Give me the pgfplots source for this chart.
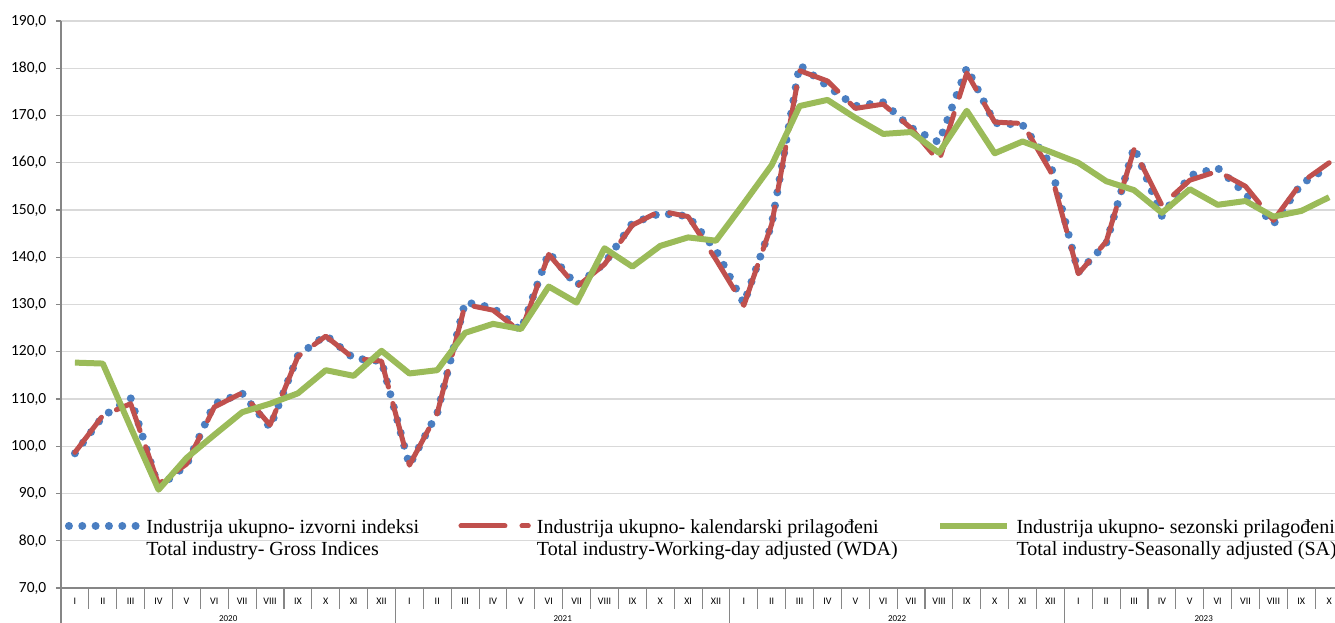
\documentclass[border=0pt]{standalone}
\usepackage{fontspec}
\setmainfont{Liberation Serif}
\newfontfamily\carlito{Carlito}
\usepackage{pgfplots}
\usepackage{pgfplotstable}
\pgfplotsset{compat=1.18}
\definecolor{cGross}{RGB}{74,126,193}
\definecolor{cWDA}{RGB}{192,80,77}
\definecolor{cSA}{RGB}{155,187,89}
\definecolor{cAxis}{RGB}{134,134,134}
\definecolor{cGrid}{RGB}{217,217,217}

\pgfplotstableread{
x gross wda sa
0 98.5 98.7 117.7
1 106.3 106.5 117.5
2 110.2 109.0 104.0
3 91.3 92.0 90.8
4 96.0 96.2 97.5
5 109.0 108.3 102.4
6 111.2 111.3 107.2
7 104.0 104.5 109.0
8 119.2 119.0 111.2
9 123.5 123.3 116.1
10 118.6 118.6 114.9
11 118.0 118.0 120.2
12 96.0 96.0 115.4
13 107.0 107.0 116.1
14 130.5 130.0 124.0
15 129.3 128.8 125.9
16 124.5 124.2 124.8
17 141.0 140.6 133.8
18 134.0 133.7 130.4
19 138.7 138.5 141.9
20 147.2 146.8 138.0
21 149.3 149.8 142.4
22 148.7 148.6 144.2
23 141.5 139.5 143.5
24 130.2 129.8 151.4
25 147.0 147.0 159.5
26 180.7 179.5 172.0
27 176.2 177.3 173.3
28 172.0 171.5 169.5
29 172.8 172.4 166.1
30 167.4 167.3 166.5
31 164.3 160.3 162.1
32 180.1 179.0 171.0
33 168.4 168.6 162.0
34 168.0 168.3 164.5
35 159.8 158.2 162.3
36 136.8 136.5 160.0
37 142.9 143.3 156.1
38 163.3 162.8 154.2
39 148.7 151.0 149.4
40 157.3 156.3 154.4
41 158.9 158.2 151.1
42 153.4 155.0 151.9
43 147.0 147.8 148.6
44 155.5 155.8 149.8
45 159.2 160.0 152.7
}\data

\begin{document}
\begin{tikzpicture}
\begin{axis}[
  scale only axis, width=955.5pt, height=425.25pt,
  xmin=-0.5, xmax=45.21, ymin=70, ymax=190,
  axis x line*=bottom, axis y line*=left,
  axis line style={draw=cAxis, line width=1.1pt, -},
  ytick={70,80,...,190},
  ymajorgrids, grid style={draw=cGrid, line width=1.1pt},
  tick align=outside, major tick length=3.75pt,
  ytick style={draw=cAxis, line width=0.8pt},
  xtick={0,...,45}, xtick style={draw=none},
  xticklabels={I,II,III,IV,V,VI,VII,VIII,IX,X,XI,XII,I,II,III,IV,V,VI,VII,VIII,IX,X,XI,XII,I,II,III,IV,V,VI,VII,VIII,IX,X,XI,XII,I,II,III,IV,V,VI,VII,VIII,IX,X},
  x tick label style={font=\carlito\fontsize{7.5}{8}\selectfont, anchor=center, yshift=-6.25pt},
  y tick label style={font=\carlito\fontsize{11.6}{13}\selectfont, xshift=-3.75pt},
  yticklabel style={/pgf/number format/.cd, fixed, fixed zerofill, precision=1, use comma, assume math mode=true},
  clip=false,
  legend columns=3,
  legend cell align=left,
  legend image code/.code={\draw[#1] (0pt,-6.5pt) -- (50.5pt,-6.5pt);},
  legend style={at={(rel axis cs:0.0031,0.1247)}, anchor=north west, draw=none, fill=none,
    inner sep=0pt, outer sep=0pt, font=\fontsize{15}{16.5}\selectfont,
    column sep=0pt,
    /tikz/every odd column/.append style={column sep=2.6pt},
    /tikz/every even column/.append style={column sep=27.5pt},
    cells={anchor=north west, align=left, inner sep=0pt}},
]
\addplot[cGross, line width=6pt, line cap=round, line join=round, dash pattern=on 0pt off 10pt] table[x=x,y=gross]{\data};
\addlegendentry{Industrija ukupno- izvorni indeksi\\Total industry- Gross Indices}
\addplot[cWDA, line width=3.75pt, line cap=round, line join=round, dash pattern=on 33pt off 12.75pt] table[x=x,y=wda]{\data};
\addlegendentry{Industrija ukupno- kalendarski prilagođeni\\Total industry-Working-day adjusted (WDA)}
\addplot[cSA, line width=4.5pt, line join=round] table[x=x,y=sa]{\data};
\addlegendentry{Industrija ukupno- sezonski prilagođeni\\Total industry-Seasonally adjusted (SA)}

\pgfplotsinvokeforeach{-0.5,0.5,...,44.5}{\draw[cAxis, line width=0.8pt] (axis cs:#1,70) -- ++(0pt,-15.75pt);}
\pgfplotsinvokeforeach{-0.5,11.5,23.5,35.5}{\draw[cAxis, line width=0.8pt] (axis cs:#1,70) -- ++(0pt,-27pt);}
\node[font=\carlito\fontsize{6.75}{7}\selectfont, yshift=-23pt] at (axis cs:5.5,70) {2020};
\node[font=\carlito\fontsize{6.75}{7}\selectfont, yshift=-23pt] at (axis cs:17.5,70) {2021};
\node[font=\carlito\fontsize{6.75}{7}\selectfont, yshift=-23pt] at (axis cs:29.5,70) {2022};
\node[font=\carlito\fontsize{6.75}{7}\selectfont, yshift=-23pt] at (axis cs:40.5,70) {2023};
\coordinate (sw) at (rel axis cs:0,0);
\coordinate (ne) at (rel axis cs:1,1);
\end{axis}
\pgfresetboundingbox
\path[use as bounding box] ([xshift=-45.75pt,yshift=-26.25pt]sw) rectangle ([yshift=15.75pt]ne);
\end{tikzpicture}
\end{document}
